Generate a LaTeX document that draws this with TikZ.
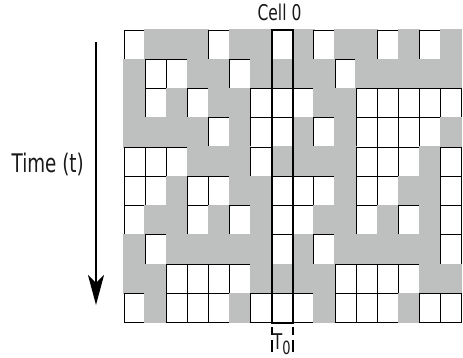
\documentclass[tikz,border=0pt]{standalone}
\usepackage{fontspec}
\setmainfont{DejaVu Sans}
\usetikzlibrary{arrows.meta}
\definecolor{cellgrey}{RGB}{190,192,192}
\tikzset{
  whitecell/.style={fill=white, draw=black, line width=0.9pt},
  greycell/.style={fill=cellgrey, draw=cellgrey, line width=1.3pt},
  columnbox/.style={draw=black, line width=2.3pt},
  widthmark/.style={draw=black, line width=2pt,
    dash pattern=on 7.5pt off 5.5pt on 12pt off 4.5pt, dash phase=25pt},
  timearrow/.style={draw=black, line width=2pt,
    -{Stealth[length=30pt, width=16pt, inset=8pt]}},
  label/.style={inner sep=0pt, text=black!90},
}
% tall sans labels
\newcommand{\tall}[2]{\scalebox{1}[1.4]{\fontsize{#1}{#1}\selectfont #2}}
\begin{document}
\begin{tikzpicture}[x=1pt, y=-1pt]
  \useasboundingbox (0,0) rectangle (463,358);
  \def\gx{124}   % left edge of the grid
  \def\gy{30}    % top edge of the grid
  \def\cw{21.1}  % cell width
  \def\ch{29.27} % cell height
  % cell states, row by row (1 = grey, 0 = white)
  \foreach \r/\pat in {
    0/{0,1,1,1,0,1,1,0,1,0,1,1,0,1,0,1},
    1/{1,0,0,1,1,0,1,1,1,1,0,1,1,1,1,1},
    2/{1,0,1,0,1,1,0,0,0,1,1,0,0,0,0,0},
    3/{1,1,1,1,0,1,0,0,1,0,1,0,0,0,0,1},
    4/{0,0,0,1,1,1,0,1,1,1,1,0,0,0,1,0},
    5/{0,0,1,0,0,1,1,0,0,0,1,0,0,1,1,0},
    6/{0,1,1,0,1,0,1,0,0,1,1,0,1,0,1,0},
    7/{1,0,1,1,1,1,1,0,1,0,1,1,1,1,1,0},
    8/{1,1,0,0,0,0,1,1,1,1,0,0,0,0,1,1},
    9/{0,1,0,0,0,1,0,0,0,1,0,0,0,1,0,0}} {
    \foreach \v [count=\c from 0] in \pat {
      \ifnum\v=1
        \path[greycell] ({\gx+\c*\cw},{\gy+\r*\ch}) rectangle ++(\cw,\ch);
      \else
        \path[whitecell] ({\gx+\c*\cw},{\gy+\r*\ch}) rectangle ++(\cw,\ch);
      \fi
    }
  }
  % highlighted column of cell 0
  \coordinate (colTL) at ({\gx+7*\cw},\gy);
  \coordinate (colBR) at ({\gx+8*\cw},{\gy+10*\ch});
  \draw[columnbox] (colTL) rectangle (colBR);
  % width marks below the column
  \coordinate (markL) at ({\gx+7*\cw},{\gy+10*\ch});
  \coordinate (markR) at ({\gx+8*\cw},{\gy+10*\ch});
  \coordinate (markLend) at ({\gx+7*\cw},354);
  \coordinate (markRend) at ({\gx+8*\cw},354);
  \draw[widthmark] (markL) -- (markLend);
  \draw[widthmark] (markR) -- (markRend);
  % labels
  \node[label, anchor=base] (cell) at (279.5,21) {\tall{15.5}{Cell 0}};
  \node[label, anchor=base west] (tzero) at (272.6,349.5)
    {\scalebox{1}[1.4]{\fontsize{15.5}{15.5}\selectfont T\raisebox{-3.4pt}{\fontsize{13}{13}\selectfont 0}}};
  \node[label, anchor=base west] (time) at (11.5,172.7) {\tall{18.3}{Time (t)}};
  % time axis
  \coordinate (tstart) at (96,42);
  \coordinate (tend) at (96,305);
  \draw[timearrow] (tstart) -- (tend);
\end{tikzpicture}
\end{document}
